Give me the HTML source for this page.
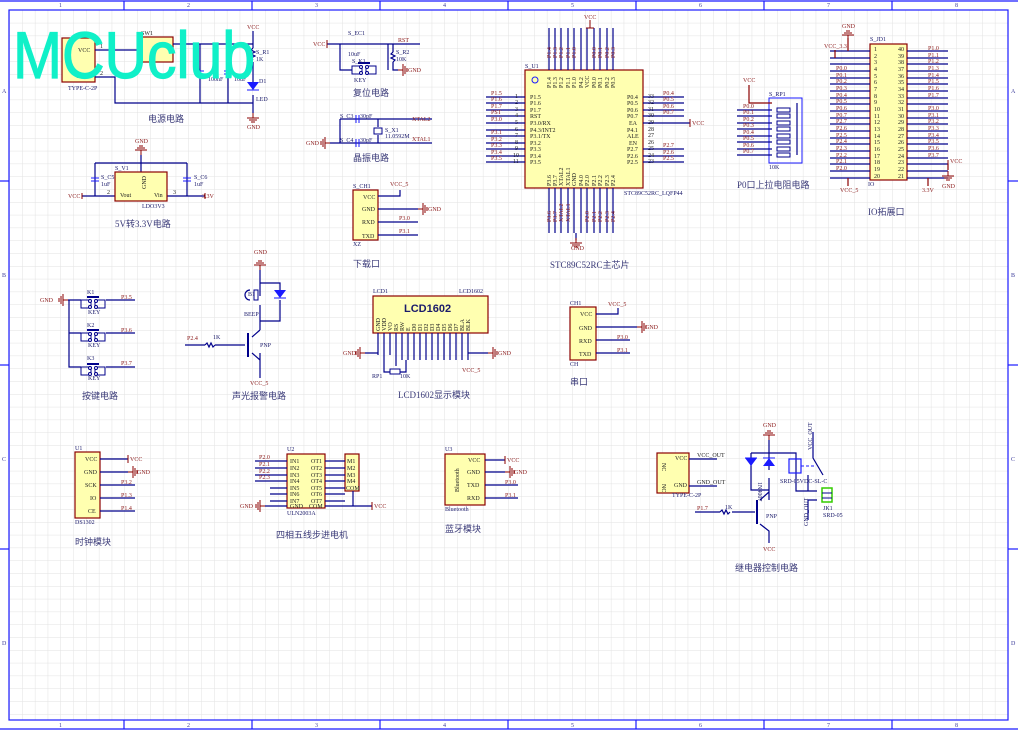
<!DOCTYPE html>
<html><head><meta charset="utf-8">
<style>
html,body{margin:0;padding:0;background:#fff;}
svg{display:block;}
text{font-family:"Liberation Serif","Noto Serif CJK SC",serif;}
.s{font-size:6px;fill:#8b1a1a;}
.b{font-size:6px;fill:#1a1a6a;}
.k{font-size:6px;fill:#222;}
.t{font-size:9px;fill:#3a3a78;font-family:"Liberation Serif","Noto Sans CJK SC",serif;}
.w{stroke:#00008b;stroke-width:1.2;fill:none;}
.r{stroke:#8b0000;stroke-width:1.2;fill:none;}
.box{fill:#ffffb0;stroke:#8b0000;stroke-width:1.2;}
.blu{stroke:#1a1aff;stroke-width:1.2;fill:none;}
</style></head><body>
<svg width="1018" height="731" viewBox="0 0 1018 731" xmlns="http://www.w3.org/2000/svg">
<defs>
<pattern id="g" width="12.8" height="12.8" patternUnits="userSpaceOnUse" x="9.8" y="10.5">
<path d="M12.8 0V12.8H0" fill="none" stroke="#e2e2e2" stroke-width="1"/>
</pattern>
<g id="gndd"><line x1="0" y1="0" x2="0" y2="5" stroke="#8b0000"/><line x1="-6" y1="5" x2="6" y2="5" stroke="#8b0000"/><line x1="-4" y1="7" x2="4" y2="7" stroke="#8b0000"/><line x1="-2" y1="9" x2="2" y2="9" stroke="#8b0000"/></g>
<g id="gndl"><line x1="0" y1="0" x2="-5" y2="0" stroke="#8b0000"/><line x1="-5" y1="-6" x2="-5" y2="6" stroke="#8b0000"/><line x1="-7" y1="-4" x2="-7" y2="4" stroke="#8b0000"/><line x1="-9" y1="-2" x2="-9" y2="2" stroke="#8b0000"/></g>
<g id="gndr"><line x1="0" y1="0" x2="5" y2="0" stroke="#8b0000"/><line x1="5" y1="-6" x2="5" y2="6" stroke="#8b0000"/><line x1="7" y1="-4" x2="7" y2="4" stroke="#8b0000"/><line x1="9" y1="-2" x2="9" y2="2" stroke="#8b0000"/></g>
<g id="key"><rect x="0" y="0" width="10" height="8" fill="none" stroke="#00008b"/><rect x="14" y="0" width="10" height="8" fill="none" stroke="#00008b"/><line x1="6" y1="-3" x2="18" y2="-3" stroke="#00008b" stroke-width="2"/><circle cx="9" cy="1" r="1.5" fill="#fff" stroke="#00008b"/><circle cx="9" cy="7" r="1.5" fill="#fff" stroke="#00008b"/><circle cx="15" cy="1" r="1.5" fill="#fff" stroke="#00008b"/><circle cx="15" cy="7" r="1.5" fill="#fff" stroke="#00008b"/></g>
</defs>
<rect x="0" y="0" width="1018" height="731" fill="#fff"/>
<rect x="9" y="10" width="999" height="710" fill="url(#g)"/>
<!-- frame -->
<rect x="9" y="10" width="999" height="710" class="blu"/>
<line x1="0" y1="1" x2="1018" y2="1" class="blu"/>
<line x1="0" y1="729" x2="1018" y2="729" class="blu"/>
<g class="blu">
<line x1="124" y1="1" x2="124" y2="10"/><line x1="252" y1="1" x2="252" y2="10"/><line x1="380" y1="1" x2="380" y2="10"/><line x1="508" y1="1" x2="508" y2="10"/><line x1="636" y1="1" x2="636" y2="10"/><line x1="764" y1="1" x2="764" y2="10"/><line x1="892" y1="1" x2="892" y2="10"/>
<line x1="124" y1="720" x2="124" y2="729"/><line x1="252" y1="720" x2="252" y2="729"/><line x1="380" y1="720" x2="380" y2="729"/><line x1="508" y1="720" x2="508" y2="729"/><line x1="636" y1="720" x2="636" y2="729"/><line x1="764" y1="720" x2="764" y2="729"/><line x1="892" y1="720" x2="892" y2="729"/>
<line x1="0" y1="181" x2="9" y2="181"/><line x1="0" y1="365" x2="9" y2="365"/><line x1="0" y1="549" x2="9" y2="549"/>
<line x1="1008" y1="181" x2="1018" y2="181"/><line x1="1008" y1="365" x2="1018" y2="365"/><line x1="1008" y1="549" x2="1018" y2="549"/>
</g>
<g font-size="6" fill="#3a3a9a">
<text x="59" y="7">1</text><text x="187" y="7">2</text><text x="315" y="7">3</text><text x="443" y="7">4</text><text x="571" y="7">5</text><text x="699" y="7">6</text><text x="827" y="7">7</text><text x="955" y="7">8</text>
<text x="59" y="727">1</text><text x="187" y="727">2</text><text x="315" y="727">3</text><text x="443" y="727">4</text><text x="571" y="727">5</text><text x="699" y="727">6</text><text x="827" y="727">7</text><text x="955" y="727">8</text>
<text x="2" y="93">A</text><text x="2" y="277">B</text><text x="2" y="461">C</text><text x="2" y="645">D</text>
<text x="1011" y="93">A</text><text x="1011" y="277">B</text><text x="1011" y="461">C</text><text x="1011" y="645">D</text>
</g>

<!-- ===== Power circuit ===== -->
<rect x="62" y="38" width="33" height="44" class="box"/>
<text x="78" y="52" class="k">VCC</text><text x="76" y="78" class="k">GND</text>
<text x="68" y="90" class="b">TYPE-C-2P</text>
<rect x="138" y="37" width="35" height="25" class="box"/>
<text x="141" y="35" class="k">SW1</text>
<path d="M95 50H138 M173 44H253 M95 77H115V103H253 M200 44V103 M228 44V103" class="w"/>
<text x="100" y="48" class="k">1</text><text x="100" y="75" class="k">2</text>
<path d="M253 31V48 M253 62V82 M253 95V113" class="w"/>
<text x="247" y="29" class="s">VCC</text>
<path d="M253 48l-2 2 4 2-4 2 4 2-4 2 2 2" class="w"/>
<text x="256" y="54" class="b">S_R1</text><text x="256" y="61" class="b">1K</text>
<path d="M247 82h12l-6 8z" fill="#1a1aff"/><line x1="247" y1="90" x2="259" y2="90" stroke="#1a1aff"/>
<text x="256" y="101" class="b">LED</text><text x="259" y="83" class="b">D1</text>
<use href="#gndd" x="253" y="113"/><text x="247" y="129" class="s">GND</text>
<text x="208" y="81" class="b">100nF</text><text x="234" y="81" class="b">10uF</text>
<line x1="196" y1="71" x2="204" y2="71" stroke="#1a1aff"/><line x1="196" y1="74" x2="204" y2="74" stroke="#1a1aff"/>
<line x1="224" y1="71" x2="232" y2="71" stroke="#1a1aff"/><line x1="224" y1="74" x2="232" y2="74" stroke="#1a1aff"/>
<text x="148" y="122" class="t">电源电路</text>

<!-- MCUclub -->
<text x="13" y="78" style="font-family:'Liberation Sans','DejaVu Sans',sans-serif;font-size:66px" fill="#10f0c8" stroke="#10f0c8" stroke-width="1.2" textLength="242" lengthAdjust="spacingAndGlyphs">MCUclub</text>

<!-- ===== LDO ===== -->
<use href="#gndd" x="141" y="145" transform="rotate(180 141 150)"/>
<text x="135" y="143" class="s">GND</text>
<path d="M141 155V163 M95 163H187 M95 163V196 M187 163V196 M82 196H115 M167 196H205 M141 163V172" class="w"/>
<rect x="115" y="172" width="52" height="29" class="box"/>
<text x="120" y="197" class="k">Vout</text><text x="154" y="197" class="k">Vin</text>
<text x="139" y="190" class="k" transform="rotate(-90 142 186)">GND</text>
<text x="115" y="170" class="b">S_V1</text><text x="142" y="208" class="b">LDO3V3</text>
<text x="107" y="194" class="k">2</text><text x="173" y="194" class="k">3</text>
<line x1="91" y1="178" x2="99" y2="178" stroke="#1a1aff"/><line x1="91" y1="181" x2="99" y2="181" stroke="#1a1aff"/>
<line x1="183" y1="178" x2="191" y2="178" stroke="#1a1aff"/><line x1="183" y1="181" x2="191" y2="181" stroke="#1a1aff"/>
<text x="101" y="179" class="b">S_C5</text><text x="101" y="186" class="b">1uF</text>
<text x="194" y="179" class="b">S_C6</text><text x="194" y="186" class="b">1uF</text>
<line x1="82" y1="193" x2="82" y2="199" stroke="#8b0000"/><text x="68" y="198" class="s">VCC</text>
<line x1="205" y1="193" x2="205" y2="199" stroke="#8b0000"/><text x="202" y="198" class="s">3.3V</text>
<text x="115" y="227" class="t">5V转3.3V电路</text>

<!-- ===== Reset ===== -->
<path d="M327 44H420 M340 44V70H352 M388 70V44 M393 44V52 M393 62V70H398" class="w"/>
<line x1="327" y1="40" x2="327" y2="48" stroke="#8b0000"/><text x="313" y="46" class="s">VCC</text>
<text x="348" y="35" class="b">S_EC1</text><text x="348" y="56" class="b">10uF</text>
<use href="#key" x="352" y="66"/><text x="352" y="63" class="b">S_K1</text><text x="354" y="82" class="b">KEY</text>
<path d="M393 52l-2 2 4 2-4 2 4 2-2 2" class="w"/>
<text x="396" y="54" class="b">S_R2</text><text x="396" y="61" class="b">10K</text>
<use href="#gndr" x="398" y="70"/><text x="408" y="72" class="s">GND</text>
<text x="398" y="42" class="s">RST</text>
<text x="353" y="96" class="t">复位电路</text>

<!-- ===== Crystal ===== -->
<path d="M340 119H432 M340 143H432 M340 119V143 M330 143H340 M378 119V127 M378 135V143" class="w"/>
<line x1="356" y1="115" x2="356" y2="123" stroke="#1a1aff"/><line x1="359" y1="115" x2="359" y2="123" stroke="#1a1aff"/>
<line x1="356" y1="139" x2="356" y2="147" stroke="#1a1aff"/><line x1="359" y1="139" x2="359" y2="147" stroke="#1a1aff"/>
<rect x="374" y="128" width="8" height="6" fill="none" stroke="#00008b"/>
<text x="340" y="118" class="b">S_C3</text><text x="360" y="118" class="b">30pF</text>
<text x="340" y="142" class="b">S_C4</text><text x="360" y="142" class="b">30pF</text>
<text x="385" y="132" class="b">S_X1</text><text x="385" y="138" class="b">11.0592M</text>
<text x="412" y="121" class="s">XTAL2</text><text x="412" y="141" class="s">XTAL1</text>
<use href="#gndl" x="330" y="143"/><text x="306" y="145" class="s">GND</text>
<text x="353" y="161" class="t">晶振电路</text>

<!-- ===== Download ===== -->
<rect x="353" y="190" width="25" height="50" class="box"/>
<text x="363" y="199" class="k">VCC</text><text x="362" y="211" class="k">GND</text><text x="362" y="224" class="k">RXD</text><text x="362" y="238" class="k">TXD</text>
<text x="353" y="188" class="b">S_CH1</text><text x="353" y="246" class="b">XZ</text>
<path d="M378 196H400V190 M378 209H418 M378 222H418 M378 235H418" class="w"/>
<text x="390" y="186" class="s">VCC_5</text><use href="#gndr" x="418" y="209"/><text x="428" y="211" class="s">GND</text>
<text x="399" y="220" class="s">P3.0</text><text x="399" y="233" class="s">P3.1</text>
<text x="353" y="267" class="t">下载口</text>

<!-- ===== MCU ===== -->
<rect x="525" y="70" width="118" height="118" class="box"/>
<circle cx="535" cy="80" r="3" fill="none" stroke="#1a1aff"/>
<text x="525" y="68" class="b">S_U1</text><text x="624" y="195" class="b">STC89C52RC_LQFP44</text>
<g class="w">
<path d="M549 70V28 M555 70V28 M561 70V28 M568 70V28 M574 70V28 M581 70V28 M587 70V28 M594 70V28 M600 70V28 M607 70V28 M613 70V28"/>
<path d="M549 188V233 M555 188V233 M561 188V233 M568 188V233 M574 188V233 M581 188V233 M587 188V233 M594 188V233 M600 188V233 M607 188V233 M613 188V233"/>
<path d="M486 97H525 M486 103H525 M486 110H525 M486 116H525 M486 123H525 M486 130H525 M486 136H525 M486 143H525 M486 149H525 M486 156H525 M486 162H525"/>
<path d="M643 97H684 M643 103H684 M643 110H684 M643 116H684 M643 123H690 M643 162H684 M643 156H684 M643 149H684"/>
<path d="M576 233V240"/>
</g>
<line x1="590" y1="20" x2="590" y2="28" stroke="#8b0000"/><line x1="586" y1="28" x2="594" y2="28" stroke="#8b0000"/><text x="584" y="19" class="s">VCC</text>
<use href="#gndd" x="576" y="238"/><text x="571" y="250" class="s">GND</text>
<line x1="690" y1="119" x2="690" y2="127" stroke="#8b0000"/><text x="692" y="125" class="s">VCC</text>
<g class="k" font-size="5">
<text x="530" y="99">P1.5</text><text x="530" y="105">P1.6</text><text x="530" y="112">P1.7</text><text x="530" y="118">RST</text><text x="530" y="125">P3.0/RX</text><text x="530" y="132">P4.3/INT2</text><text x="530" y="138">P3.1/TX</text><text x="530" y="145">P3.2</text><text x="530" y="151">P3.3</text><text x="530" y="158">P3.4</text><text x="530" y="164">P3.5</text>
<text x="627" y="99">P0.4</text><text x="627" y="105">P0.5</text><text x="627" y="112">P0.6</text><text x="627" y="118">P0.7</text><text x="629" y="125">EA</text><text x="627" y="132">P4.1</text><text x="627" y="138">ALE</text><text x="629" y="145">EN</text><text x="627" y="151">P2.7</text><text x="627" y="158">P2.6</text><text x="627" y="164">P2.5</text>
<text x="515" y="98">1</text><text x="515" y="104">2</text><text x="515" y="111">3</text><text x="515" y="117">4</text><text x="515" y="124">5</text><text x="515" y="131">6</text><text x="515" y="137">7</text><text x="515" y="144">8</text><text x="515" y="150">9</text><text x="513" y="157">10</text><text x="513" y="163">11</text>
<text x="648" y="98">33</text><text x="648" y="104">32</text><text x="648" y="111">31</text><text x="648" y="117">30</text><text x="648" y="124">29</text><text x="648" y="131">28</text><text x="648" y="137">27</text><text x="648" y="144">26</text><text x="648" y="150">25</text><text x="648" y="157">24</text><text x="648" y="163">23</text>
</g>
<g class="s" font-size="5">
<text x="491" y="95">P1.5</text><text x="491" y="101">P1.6</text><text x="491" y="108">P1.7</text><text x="491" y="114">PST</text><text x="491" y="121">P3.0</text><text x="491" y="134">P3.1</text><text x="491" y="141">P3.2</text><text x="491" y="147">P3.3</text><text x="491" y="154">P3.4</text><text x="491" y="160">P3.5</text>
<text x="663" y="95">P0.4</text><text x="663" y="101">P0.5</text><text x="663" y="108">P0.6</text><text x="663" y="114">P0.7</text><text x="663" y="147">P2.7</text><text x="663" y="154">P2.6</text><text x="663" y="160">P2.5</text>
</g>
<g class="s" font-size="5">
<text transform="translate(551 58) rotate(-90)">P1.4</text><text transform="translate(557 58) rotate(-90)">P1.3</text><text transform="translate(563 58) rotate(-90)">P1.2</text><text transform="translate(570 58) rotate(-90)">P1.1</text><text transform="translate(576 58) rotate(-90)">P1.0</text><text transform="translate(596 58) rotate(-90)">P0.0</text><text transform="translate(602 58) rotate(-90)">P0.1</text><text transform="translate(609 58) rotate(-90)">P0.2</text><text transform="translate(615 58) rotate(-90)">P0.3</text>
<text transform="translate(551 222) rotate(-90)">P3.6</text><text transform="translate(557 222) rotate(-90)">P3.7</text><text transform="translate(563 222) rotate(-90)">XTAL2</text><text transform="translate(570 222) rotate(-90)">XTAL1</text><text transform="translate(589 222) rotate(-90)">P2.0</text><text transform="translate(596 222) rotate(-90)">P2.1</text><text transform="translate(602 222) rotate(-90)">P2.2</text><text transform="translate(609 222) rotate(-90)">P2.3</text><text transform="translate(615 222) rotate(-90)">P2.4</text>
</g>
<g class="k" font-size="5">
<text transform="translate(551 88) rotate(-90)">P1.4</text><text transform="translate(557 88) rotate(-90)">P1.3</text><text transform="translate(563 88) rotate(-90)">P1.2</text><text transform="translate(570 88) rotate(-90)">P1.1</text><text transform="translate(576 88) rotate(-90)">P1.0</text><text transform="translate(583 88) rotate(-90)">P4.2</text><text transform="translate(589 88) rotate(-90)">VCC</text><text transform="translate(596 88) rotate(-90)">P0.0</text><text transform="translate(602 88) rotate(-90)">P0.1</text><text transform="translate(609 88) rotate(-90)">P0.2</text><text transform="translate(615 88) rotate(-90)">P0.3</text>
<text transform="translate(551 186) rotate(-90)">P3.6</text><text transform="translate(557 186) rotate(-90)">P3.7</text><text transform="translate(563 186) rotate(-90)">XTAL2</text><text transform="translate(570 186) rotate(-90)">XTAL1</text><text transform="translate(576 186) rotate(-90)">GND</text><text transform="translate(583 186) rotate(-90)">P4.0</text><text transform="translate(589 186) rotate(-90)">P2.0</text><text transform="translate(596 186) rotate(-90)">P2.1</text><text transform="translate(602 186) rotate(-90)">P2.2</text><text transform="translate(609 186) rotate(-90)">P2.3</text><text transform="translate(615 186) rotate(-90)">P2.4</text>
</g>
<text x="550" y="268" class="t">STC89C52RC主芯片</text>

<!-- ===== RP1 ===== -->
<rect x="769" y="98" width="33" height="65" fill="none" stroke="#1a1aff"/>
<text x="769" y="96" class="b">S_RP1</text><text x="769" y="169" class="b">10K</text>
<path d="M749 85V103H772" class="r"/><text x="743" y="82" class="s">VCC</text>
<g class="w">
<path d="M737 110H772 M737 116H772 M737 123H772 M737 129H772 M737 136H772 M737 142H772 M737 149H772 M737 155H772 M797 103V155"/>
</g>
<g fill="#fff" stroke="#00008b">
<rect x="777" y="108" width="13" height="4"/><rect x="777" y="114" width="13" height="4"/><rect x="777" y="121" width="13" height="4"/><rect x="777" y="127" width="13" height="4"/><rect x="777" y="134" width="13" height="4"/><rect x="777" y="140" width="13" height="4"/><rect x="777" y="147" width="13" height="4"/><rect x="777" y="153" width="13" height="4"/>
</g>
<g class="s" font-size="5"><text x="743" y="108">P0.0</text><text x="743" y="114">P0.1</text><text x="743" y="121">P0.2</text><text x="743" y="127">P0.3</text><text x="743" y="134">P0.4</text><text x="743" y="140">P0.5</text><text x="743" y="147">P0.6</text><text x="743" y="153">P0.7</text></g>
<text x="737" y="188" class="t">P0口上拉电阻电路</text>

<!-- ===== IO ===== -->
<rect x="870" y="44" width="37" height="136" class="box"/>
<text x="870" y="41" class="b">S_JD1</text><text x="868" y="186" class="b">IO</text>
<g class="w">
<path d="M830 51H870 M830 58H870 M830 64H870 M830 71H870 M830 78H870 M830 84H870 M830 91H870 M830 98H870 M830 104H870 M830 111H870 M830 118H870 M830 124H870 M830 131H870 M830 138H870 M830 144H870 M830 151H870 M830 158H870 M830 164H870 M830 171H870 M830 178H870"/>
<path d="M907 51H948 M907 58H948 M907 64H948 M907 71H948 M907 78H948 M907 84H948 M907 91H948 M907 98H948 M907 104H948 M907 111H948 M907 118H948 M907 124H948 M907 131H948 M907 138H948 M907 144H948 M907 151H948 M907 158H948 M907 164H948 M907 171H948 M907 178H948"/>
</g>
<path d="M848 38V51 M835 50V58 M848 178V186 M928 178V186 M948 164V170" class="r"/>
<use href="#gndd" x="848" y="30" transform="rotate(180 848 35)"/>
<text x="842" y="28" class="s">GND</text><text x="824" y="48" class="s">VCC_3.3</text>
<text x="840" y="192" class="s">VCC_5</text><text x="922" y="192" class="s">3.3V</text>
<line x1="948" y1="160" x2="948" y2="168" stroke="#8b0000"/><text x="950" y="163" class="s">VCC</text>
<use href="#gndd" x="948" y="171"/><text x="942" y="188" class="s">GND</text>
<g class="k" font-size="5">
<text x="874" y="51">1</text><text x="874" y="58">2</text><text x="874" y="64">3</text><text x="874" y="71">4</text><text x="874" y="78">5</text><text x="874" y="84">6</text><text x="874" y="91">7</text><text x="874" y="98">8</text><text x="874" y="104">9</text><text x="874" y="111">10</text><text x="874" y="118">11</text><text x="874" y="124">12</text><text x="874" y="131">13</text><text x="874" y="138">14</text><text x="874" y="144">15</text><text x="874" y="151">16</text><text x="874" y="158">17</text><text x="874" y="164">18</text><text x="874" y="171">19</text><text x="874" y="178">20</text>
<text x="898" y="51">40</text><text x="898" y="58">39</text><text x="898" y="64">38</text><text x="898" y="71">37</text><text x="898" y="78">36</text><text x="898" y="84">35</text><text x="898" y="91">34</text><text x="898" y="98">33</text><text x="898" y="104">32</text><text x="898" y="111">31</text><text x="898" y="118">30</text><text x="898" y="124">29</text><text x="898" y="131">28</text><text x="898" y="138">27</text><text x="898" y="144">26</text><text x="898" y="151">25</text><text x="898" y="158">24</text><text x="898" y="164">23</text><text x="898" y="171">22</text><text x="898" y="178">21</text>
</g>
<g class="s" font-size="5">
<text x="836" y="70">P0.0</text><text x="836" y="77">P0.1</text><text x="836" y="83">P0.2</text><text x="836" y="90">P0.3</text><text x="836" y="97">P0.4</text><text x="836" y="103">P0.5</text><text x="836" y="110">P0.6</text><text x="836" y="117">P0.7</text><text x="836" y="123">P2.7</text><text x="836" y="130">P2.6</text><text x="836" y="137">P2.5</text><text x="836" y="143">P2.4</text><text x="836" y="150">P2.3</text><text x="836" y="157">P2.2</text><text x="836" y="163">P2.1</text><text x="836" y="170">P2.0</text>
<text x="928" y="50">P1.0</text><text x="928" y="57">P1.1</text><text x="928" y="63">P1.2</text><text x="928" y="70">P1.3</text><text x="928" y="77">P1.4</text><text x="928" y="83">P1.5</text><text x="928" y="90">P1.6</text><text x="928" y="97">P1.7</text><text x="928" y="110">P3.0</text><text x="928" y="117">P3.1</text><text x="928" y="123">P3.2</text><text x="928" y="130">P3.3</text><text x="928" y="137">P3.4</text><text x="928" y="143">P3.5</text><text x="928" y="150">P3.6</text><text x="928" y="157">P3.7</text>
</g>
<text x="868" y="215" class="t">IO拓展口</text>

<!-- ===== Keys ===== -->
<use href="#gndl" x="68" y="300"/><text x="40" y="302" class="s">GND</text>
<path d="M68 300H81 M69 300V367H81 M69 333H81 M106 300H135 M106 333H135 M106 367H135" class="w"/>
<use href="#key" x="81" y="300"/><use href="#key" x="81" y="333"/><use href="#key" x="81" y="367"/>
<text x="87" y="294" class="b">K1</text><text x="87" y="327" class="b">K2</text><text x="87" y="360" class="b">K3</text>
<text x="88" y="314" class="b">KEY</text><text x="88" y="347" class="b">KEY</text><text x="88" y="380" class="b">KEY</text>
<text x="121" y="299" class="s">P3.5</text><text x="121" y="332" class="s">P3.6</text><text x="121" y="365" class="s">P3.7</text>
<text x="82" y="399" class="t">按键电路</text>

<!-- ===== Buzzer ===== -->
<use href="#gndd" x="260" y="260" transform="rotate(180 260 265)"/><text x="254" y="254" class="s">GND</text>
<path d="M260 270V283H280V290 M280 300V321H260 M260 283V296 M260 305V330 M260 330L252 337 M260 353V378 M252 353L260 360 M185 345H205 M215 345H245" class="w"/>
<line x1="248" y1="333" x2="248" y2="357" stroke="#00008b" stroke-width="2"/>
<path d="M250 290a5 5 0 0 0 0 10" class="w"/><rect x="254" y="290" width="4" height="10" fill="none" stroke="#00008b"/>
<path d="M274 290h12l-6 8z" fill="#1a1aff"/><line x1="274" y1="298" x2="286" y2="298" stroke="#1a1aff"/>
<path d="M205 345l2-2 2 4 2-4 2 4 2-2" class="w"/>
<text x="248" y="296" class="b">B1</text><text x="244" y="316" class="b">BEEP</text><text x="260" y="347" class="b">PNP</text>
<text x="213" y="339" class="b">1K</text><text x="187" y="340" class="s">P2.4</text>
<text x="250" y="385" class="s">VCC_5</text>
<text x="232" y="399" class="t">声光报警电路</text>

<!-- ===== LCD1602 ===== -->
<rect x="373" y="296" width="115" height="37" class="box"/>
<text x="373" y="293" class="b">LCD1</text><text x="459" y="293" class="b">LCD1602</text>
<text x="404" y="312" style="font-family:'Liberation Sans',sans-serif;font-size:11px;font-weight:bold" fill="#1a1a6a">LCD1602</text>
<g class="w"><path d="M378 333V355 M384 333V355 M390 333V355 M396 333V360 M402 333V360 M408 333V360 M414 333V360 M420 333V360 M426 333V360 M432 333V360 M438 333V360 M444 333V360 M450 333V360 M456 333V360 M462 333V360 M468 333V360 M365 353H378 M468 353H488 M384 355V372H390 M400 372H406V360 M396 360V366"/></g>
<rect x="390" y="369" width="10" height="5" fill="#fff" stroke="#00008b"/>
<use href="#gndl" x="365" y="353"/><text x="343" y="355" class="s">GND</text>
<use href="#gndr" x="488" y="353"/><text x="498" y="355" class="s">GND</text>
<text x="462" y="372" class="s">VCC_5</text><text x="372" y="378" class="b">RP1</text><text x="400" y="378" class="b">10K</text>
<g class="k" font-size="5">
<text transform="translate(380 331) rotate(-90)">GND</text><text transform="translate(386 331) rotate(-90)">VDD</text><text transform="translate(392 331) rotate(-90)">VO</text><text transform="translate(398 331) rotate(-90)">RS</text><text transform="translate(404 331) rotate(-90)">RW</text><text transform="translate(410 331) rotate(-90)">E</text><text transform="translate(416 331) rotate(-90)">D0</text><text transform="translate(422 331) rotate(-90)">D1</text><text transform="translate(428 331) rotate(-90)">D2</text><text transform="translate(434 331) rotate(-90)">D3</text><text transform="translate(440 331) rotate(-90)">D4</text><text transform="translate(446 331) rotate(-90)">D5</text><text transform="translate(452 331) rotate(-90)">D6</text><text transform="translate(458 331) rotate(-90)">D7</text><text transform="translate(464 331) rotate(-90)">BLA</text><text transform="translate(470 331) rotate(-90)">BLK</text>
</g>
<text x="398" y="398" class="t">LCD1602显示模块</text>

<!-- ===== Serial ===== -->
<rect x="570" y="307" width="26" height="53" class="box"/>
<text x="570" y="305" class="b">CH1</text><text x="570" y="366" class="b">CH</text>
<text x="580" y="316" class="k">VCC</text><text x="579" y="330" class="k">GND</text><text x="579" y="343" class="k">RXD</text><text x="579" y="356" class="k">TXD</text>
<path d="M596 314H618V308 M596 327H637 M596 340H630 M596 353H630" class="w"/>
<text x="608" y="306" class="s">VCC_5</text><use href="#gndr" x="637" y="327"/><text x="645" y="329" class="s">GND</text>
<text x="617" y="339" class="s">P3.0</text><text x="617" y="352" class="s">P3.1</text>
<text x="570" y="385" class="t">串口</text>

<!-- ===== DS1302 ===== -->
<rect x="75" y="452" width="25" height="66" class="box"/>
<text x="75" y="450" class="b">U1</text><text x="75" y="524" class="b">DS1302</text>
<text x="85" y="461" class="k">VCC</text><text x="84" y="474" class="k">GND</text><text x="85" y="487" class="k">SCK</text><text x="90" y="500" class="k">IO</text><text x="88" y="513" class="k">CE</text>
<path d="M100 459H128 M100 472H128 M100 485H135 M100 498H135 M100 511H135" class="w"/>
<line x1="128" y1="455" x2="128" y2="463" stroke="#8b0000"/><text x="130" y="461" class="s">VCC</text>
<use href="#gndr" x="128" y="472"/><text x="137" y="474" class="s">GND</text>
<text x="121" y="484" class="s">P3.2</text><text x="121" y="497" class="s">P1.3</text><text x="121" y="510" class="s">P1.4</text>
<text x="75" y="545" class="t">时钟模块</text>

<!-- ===== ULN2003 ===== -->
<rect x="287" y="454" width="38" height="54" class="box"/>
<rect x="345" y="454" width="14" height="37" class="box"/>
<text x="287" y="451" class="b">U2</text><text x="287" y="515" class="b">ULN2003A</text>
<g class="w"><path d="M255 461H287 M255 468H287 M255 475H287 M255 481H287 M270 488H287 M270 494H287 M270 501H287 M265 506H287 M325 461H345 M325 468H345 M325 475H345 M325 481H345 M325 488H345 M325 494H345 M325 501H345 M325 506H372 M353 491V506"/></g>
<use href="#gndl" x="265" y="506"/><text x="240" y="508" class="s">GND</text>
<line x1="372" y1="502" x2="372" y2="510" stroke="#8b0000"/><text x="374" y="508" class="s">VCC</text>
<g class="k" font-size="5">
<text x="290" y="463">IN1</text><text x="290" y="470">IN2</text><text x="290" y="477">IN3</text><text x="290" y="483">IN4</text><text x="290" y="490">IN5</text><text x="290" y="496">IN6</text><text x="290" y="503">IN7</text><text x="290" y="508">GND</text>
<text x="311" y="463">OT1</text><text x="311" y="470">OT2</text><text x="311" y="477">OT3</text><text x="311" y="483">OT4</text><text x="311" y="490">OT5</text><text x="311" y="496">OT6</text><text x="311" y="503">OT7</text><text x="309" y="508">COM</text>
<text x="347" y="463">M1</text><text x="347" y="470">M2</text><text x="347" y="477">M3</text><text x="347" y="483">M4</text><text x="346" y="490">COM</text>
</g>
<g class="s" font-size="5"><text x="259" y="459">P2.0</text><text x="259" y="466">P2.1</text><text x="259" y="473">P2.2</text><text x="259" y="479">P2.3</text></g>
<text x="276" y="538" class="t">四相五线步进电机</text>

<!-- ===== Bluetooth ===== -->
<rect x="445" y="454" width="40" height="51" class="box"/>
<text x="445" y="451" class="b">U3</text><text x="445" y="511" class="b">Bluetooth</text>
<text transform="translate(459 492) rotate(-90)" class="k" font-size="5">Bluetooth</text>
<text x="468" y="462" class="k">VCC</text><text x="467" y="474" class="k">GND</text><text x="467" y="487" class="k">TXD</text><text x="467" y="500" class="k">RXD</text>
<path d="M485 460H505 M485 472H505 M485 485H518 M485 498H518" class="w"/>
<line x1="505" y1="456" x2="505" y2="464" stroke="#8b0000"/><text x="507" y="462" class="s">VCC</text>
<use href="#gndr" x="505" y="472"/><text x="514" y="474" class="s">GND</text>
<text x="505" y="484" class="s">P3.0</text><text x="505" y="497" class="s">P3.1</text>
<text x="445" y="532" class="t">蓝牙模块</text>

<!-- ===== Relay ===== -->
<rect x="657" y="453" width="32" height="40" class="box"/>
<text x="675" y="460" class="k">VCC</text><text x="674" y="487" class="k">GND</text>
<text transform="translate(662 463) rotate(90)" class="k" font-size="5">NC</text><text transform="translate(662 484) rotate(90)" class="k" font-size="5">NC</text>
<text x="672" y="497" class="b">TYPE-C-2P</text>
<path d="M689 459H717 M689 486H717" class="w"/>
<text x="697" y="457" class="k">VCC_OUT</text><text x="697" y="484" class="k">GND_OUT</text>
<use href="#gndd" x="769" y="430" transform="rotate(180 769 435)"/><text x="763" y="427" class="s">GND</text>
<g class="w"><path d="M769 440V453 M751 453H796V491H808 M751 453V490H769 M769 453V470 M769 478V500 M695 512H720 M732 512H755 M760 500L769 492 M760 524L769 531V543 M813 432V458L823 475 M808 475V491H817 M808 500H817 M808 500V520"/></g>
<line x1="757" y1="500" x2="757" y2="524" stroke="#00008b" stroke-width="2"/>
<path d="M745 458h12l-6 8z M763 466h12l-6-8z" fill="#1a1aff"/>
<line x1="745" y1="458" x2="757" y2="458" stroke="#1a1aff"/><line x1="763" y1="458" x2="775" y2="458" stroke="#1a1aff"/>
<path d="M720 512l2-2 2 4 2-4 2 4 2-2" class="w"/>
<rect x="789" y="459" width="12" height="14" fill="none" stroke="#1a1aff" stroke-width="1.2"/>
<line x1="801" y1="466" x2="815" y2="466" stroke="#1a1aff" stroke-dasharray="3 2"/>
<rect x="822" y="488" width="10" height="14" fill="none" stroke="#33cc00" stroke-width="1.5"/>
<line x1="822" y1="493" x2="832" y2="493" stroke="#00008b"/><line x1="822" y1="498" x2="832" y2="498" stroke="#00008b"/>
<text x="780" y="483" class="b">SRD-05VDC-SL-C</text>
<text x="823" y="510" class="b">JK1</text><text x="823" y="517" class="b">SRD-05</text>
<text x="766" y="518" class="b">PNP</text><text x="725" y="509" class="b">1K</text>
<text x="697" y="510" class="s">P1.7</text><text x="763" y="551" class="s">VCC</text>
<text transform="translate(808 526) rotate(-90)" class="b" font-size="5">GND_OUT</text>
<text transform="translate(812 450) rotate(-90)" class="b" font-size="5">VCC_OUT</text>
<text transform="translate(758 482) rotate(90)" class="b" font-size="5">1N4007</text>
<text x="735" y="571" class="t">继电器控制电路</text>
</svg>
</body></html>
